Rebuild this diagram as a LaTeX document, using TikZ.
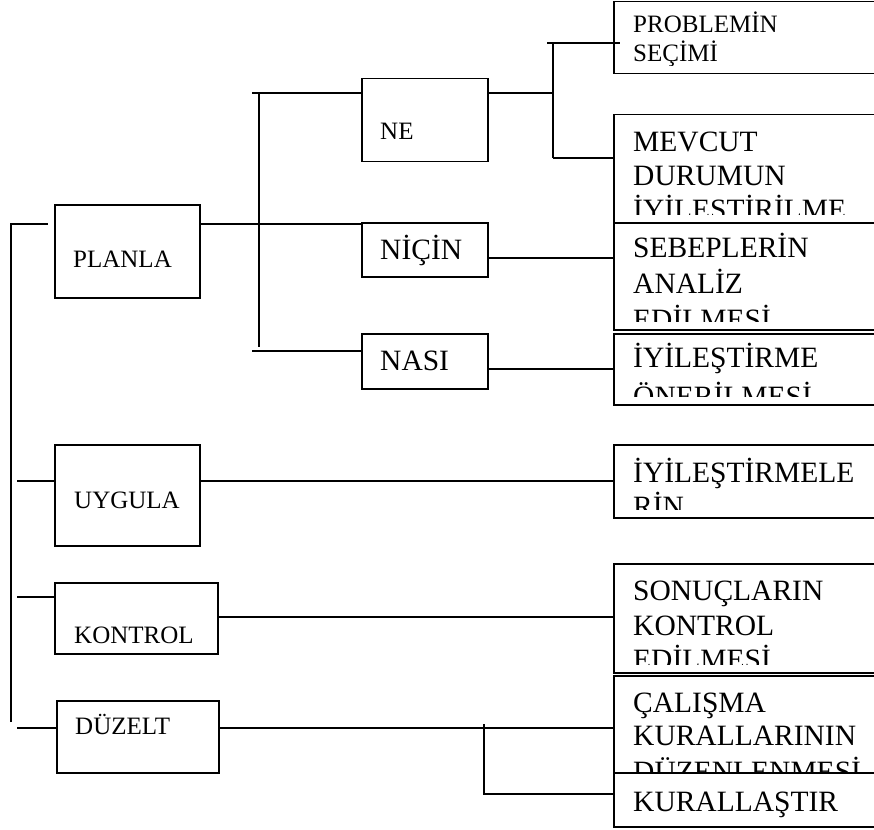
\documentclass[tikz,border=0pt]{standalone}
\usepackage{fontspec}
\setmainfont{Liberation Serif}
\usetikzlibrary{calc}
\tikzset{
  box/.style={draw, line width=1.5pt, fill=white, inner sep=0pt, anchor=north west},
  side/.style={box, minimum width=280pt},
  lbl/.style={anchor=base west, inner sep=0pt},
  small/.style={lbl, font=\fontsize{25}{29}\selectfont},
  big/.style={lbl, font=\fontsize{29.5}{34}\selectfont},
  wire/.style={line width=1.5pt},
}
% text area of a frame: its inside, less a bottom margin
\newcommand{\framearea}[1]{\clip (#1.north west) rectangle ([yshift=9pt]#1.south east);}
\begin{document}
\begin{tikzpicture}[x=1pt, y=-1pt]
\useasboundingbox (0,0) rectangle (874,829);
\clip (0,0) rectangle (874,829);

% ---- left column
\node[box, minimum width=145pt, minimum height=93pt] (planla) at (54,204) {};
\node[small] (planlat) at ($(planla.north west)+(19,63)$) {PLANLA};
\node[box, minimum width=145pt, minimum height=101pt] (uygula) at (54,444) {};
\node[small] (uygulat) at ($(uygula.north west)+(20,64)$) {UYGULA};
\node[box, minimum width=163pt, minimum height=71pt] (kontrol) at (54,582) {};
\node[small] (kontrolt) at ($(kontrol.north west)+(20,61)$) {KONTROL};
\node[box, minimum width=162pt, minimum height=72pt] (duzelt) at (56,700) {};
\node[small] (duzeltt) at ($(duzelt.north west)+(19,34)$) {DÜZELT};

% ---- middle column
\node[box, minimum width=126pt, minimum height=83pt] (ne) at (361,78) {};
\node[small] (net) at ($(ne.north west)+(19,62)$) {NE};
\node[box, minimum width=126pt, minimum height=54pt] (nicin) at (361,222) {};
\node[big] (nicint) at ($(nicin.north west)+(19,37)$) {NİÇİN};
\node[box, minimum width=126pt, minimum height=55pt] (nasi) at (361,333) {};
\node[big] (nasit) at ($(nasi.north west)+(19,37)$) {NASI};

% ---- right column: each frame clips its own text
\node[side, minimum height=72pt] (problem) at (613,1) {};
\begin{scope}
  \framearea{problem}
  \node[small] (problem1) at ($(problem.north west)+(20,32)$) {PROBLEMİN};
  \node[small] (problem2) at ($(problem.north west)+(20,61)$) {SEÇİMİ};
\end{scope}

\node[side, minimum height=108pt] (mevcut) at (613,114) {};
\begin{scope}
  \framearea{mevcut}
  \node[big] (mevcut1) at ($(mevcut.north west)+(20,38)$) {MEVCUT};
  \node[big] (mevcut2) at ($(mevcut.north west)+(20,71)$) {DURUMUN};
  \node[big] (mevcut3) at ($(mevcut.north west)+(20,105.5)$) {İYİLEŞTİRİLME};
\end{scope}

\node[side, minimum height=107pt] (sebep) at (613,222) {};
\begin{scope}
  \framearea{sebep}
  \node[big] (sebep1) at ($(sebep.north west)+(20,35)$) {SEBEPLERİN};
  \node[big] (sebep2) at ($(sebep.north west)+(20,71)$) {ANALİZ};
  \node[big] (sebep3) at ($(sebep.north west)+(20,107.5)$) {EDİLMESİ};
\end{scope}

\node[side, minimum height=71pt] (oneri) at (613,333) {};
\begin{scope}
  \framearea{oneri}
  \node[big] (oneri1) at ($(oneri.north west)+(20,34)$) {İYİLEŞTİRME};
  \node[big] (oneri2) at ($(oneri.north west)+(20,73)$) {ÖNERİLMESİ};
\end{scope}

\node[side, minimum height=73pt] (iyiler) at (613,444) {};
\begin{scope}
  \framearea{iyiler}
  \node[big] (iyiler1) at ($(iyiler.north west)+(20,38)$) {İYİLEŞTİRMELE};
  \node[big] (iyiler2) at ($(iyiler.north west)+(20,72)$) {RİN};
\end{scope}

\node[side, minimum height=109pt] (sonuc) at (613,563) {};
\begin{scope}
  \framearea{sonuc}
  \node[big] (sonuc1) at ($(sonuc.north west)+(20,37)$) {SONUÇLARIN};
  \node[big] (sonuc2) at ($(sonuc.north west)+(20,72)$) {KONTROL};
  \node[big] (sonuc3) at ($(sonuc.north west)+(20,106.5)$) {EDİLMESİ};
\end{scope}

% this frame runs on under the KURALLAŞTIR frame, which hides its lower part
\node[side, minimum height=118pt] (calisma) at (613,675) {};
\begin{scope}
  \framearea{calisma}
  \node[big] (calisma1) at ($(calisma.north west)+(20,37)$) {ÇALIŞMA};
  \node[big] (calisma2) at ($(calisma.north west)+(20,70)$) {KURALLARININ};
  \node[big] (calisma3) at ($(calisma.north west)+(20,106)$) {DÜZENLENMESİ};
\end{scope}

\node[side, minimum height=54pt] (kural) at (613,772) {};
\node[big] (kural1) at ($(kural.north west)+(20,39)$) {KURALLAŞTIR};

% ---- junction points
\coordinate (t0) at (11,224);
\coordinate (t1) at (11,722);
\coordinate (u0) at (17,481);
\coordinate (k0) at (17,597);
\coordinate (k1) at (0,617);
\coordinate (d0) at (17,728);
\coordinate (p0) at (0,224);
\coordinate (pv0) at (259,93);
\coordinate (pv1) at (259,347);
\coordinate (n0) at (252,93);
\coordinate (n2) at (252,351);
\coordinate (nr) at (0,93);
\coordinate (nv0) at (553,43);
\coordinate (nv1) at (553,158);
\coordinate (ci) at (0,258);
\coordinate (si) at (0,369);
\coordinate (dv0) at (484,724);
\coordinate (dv1) at (484,794);

% ---- main trunk and left stubs
\draw[wire] (t1) -- (t0) -- ([xshift=-6pt]planla.west |- t0);
\draw[wire] (u0) -- (uygula.west |- u0);
\draw[wire] (k0) -- (kontrol.west |- k0);
\draw[wire] (d0) -- (duzelt.west |- d0);

% ---- PLANLA branches
\draw[wire] (planla.east |- p0) -- (nicin.west |- p0);
\draw[wire] (pv0) -- (pv1);
\draw[wire] (n0) -- (ne.west |- n0);
\draw[wire] (n2) -- (nasi.west |- n2);

% ---- NE branches
\draw[wire] (ne.east |- nr) -- (nv0 |- nr);
\draw[wire] (nv0) -- (nv1);
\draw[wire] ([xshift=-6pt]nv0) -- ([xshift=7pt]problem.west |- nv0);
\draw[wire] (nv1) -- (mevcut.west |- nv1);

% ---- single links
\draw[wire] (nicin.east |- ci) -- (sebep.west |- ci);
\draw[wire] (nasi.east |- si) -- (oneri.west |- si);
\draw[wire] (uygula.east |- u0) -- (iyiler.west |- u0);
\draw[wire] (kontrol.east |- k1) -- (sonuc.west |- k1);

% ---- DÜZELT branches
\draw[wire] (duzelt.east |- d0) -- (calisma.west |- d0);
\draw[wire] (dv0) -- (dv1) -- (kural.west |- dv1);
\end{tikzpicture}
\end{document}
